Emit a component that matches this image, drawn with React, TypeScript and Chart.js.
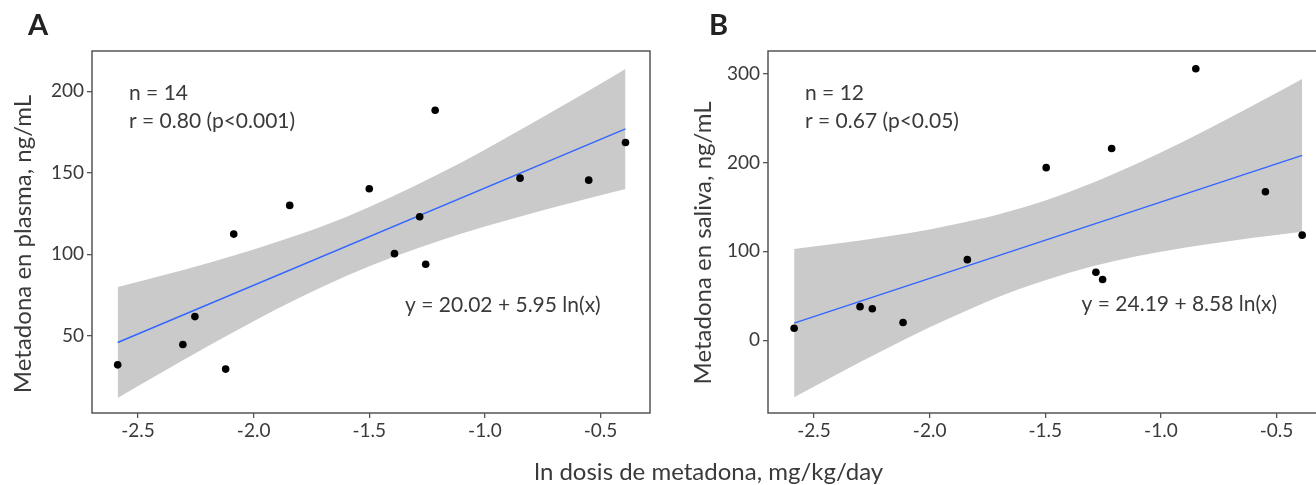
import React, { useEffect, useRef } from "react";
import { Chart, registerables } from "chart.js";

Chart.register(...registerables);

// ---------- data ----------
const xTickValues = [-2.5, -2.0, -1.5, -1.0, -0.5];
const plasmaTicks = [50, 100, 150, 200];
const salivaTicks = [0, 100, 200, 300];

// Panel A: plasma
const plasmaDose = [-2.588, -2.306, -2.254, -2.121, -2.086, -1.844, -1.5, -1.391, -1.282, -1.256, -1.215, -0.848, -0.551, -0.392];
const plasmaConc = [32.2, 44.7, 61.8, 29.6, 112.4, 130.0, 140.2, 100.4, 123.0, 93.9, 188.4, 146.7, 145.5, 168.6];
const plasmaFitX = [-2.588, -0.392];
const plasmaFitY = [45.9, 176.9];
const plasmaBandX = [-2.588, -2.4, -2.2, -2.0, -1.8, -1.6, -1.4, -1.2, -1.0, -0.8, -0.6, -0.392];
const plasmaBandUpper = [79.9, 86.8, 94.5, 103.0, 112.3, 122.9, 135.4, 149.2, 164.2, 180.1, 196.4, 213.7];
const plasmaBandLower = [11.9, 27.4, 43.5, 59.0, 73.5, 86.7, 98.2, 108.2, 117.0, 125.1, 132.6, 140.1];

// Panel B: saliva
const salivaDose = [-2.586, -2.301, -2.248, -2.115, -1.837, -1.496, -1.281, -1.252, -1.213, -0.849, -0.548, -0.389];
const salivaConc = [13.4, 37.7, 35.4, 19.8, 90.6, 194.2, 76.4, 68.2, 215.8, 305.6, 167.0, 118.2];
const salivaFitX = [-2.586, -0.389];
const salivaFitY = [19.2, 208.0];
const salivaBandX = [-2.586, -2.4, -2.2, -2.0, -1.8, -1.6, -1.4, -1.2, -1.0, -0.8, -0.6, -0.389];
const salivaBandUpper = [102.7, 108.7, 116.1, 124.6, 135.4, 149.1, 166.5, 187.5, 211.3, 237.2, 264.3, 294.0];
const salivaBandLower = [-64.3, -38.3, -11.3, 14.4, 38.0, 58.7, 75.7, 89.1, 99.5, 108.0, 115.3, 122.0];

// ---------- style ----------
const FONT = "Lato, 'Open Sans', sans-serif";
const TEXT = "#3a3a3a";
const AXIS = "#555555";
const BAND = "rgb(202,202,202)";
const BLUE = "#3366FF";

type PanelSpec = {
  dose: number[];
  conc: number[];
  fitX: number[];
  fitY: number[];
  bandX: number[];
  bandUp: number[];
  bandLo: number[];
  yMin: number;
  yMax: number;
  yTicks: number[];
  padLeft: number;
  padRight: number;
  yAxisWidth: number;
  extra: (chart: any) => void;
};

function pts(xs: number[], ys: number[]) {
  return xs.map((x, i) => ({ x, y: ys[i] }));
}

function txt(ctx: CanvasRenderingContext2D, s: string, x: number, y: number, font: string, align: CanvasTextAlign = "left", baseline: CanvasTextBaseline = "middle", color = TEXT) {
  ctx.save();
  ctx.font = font;
  ctx.fillStyle = color;
  ctx.textAlign = align;
  ctx.textBaseline = baseline;
  ctx.fillText(s, x, y);
  ctx.restore();
}

function vtxt(ctx: CanvasRenderingContext2D, s: string, x: number, y: number, font: string) {
  ctx.save();
  ctx.translate(x, y);
  ctx.rotate(-Math.PI / 2);
  ctx.font = font;
  ctx.fillStyle = TEXT;
  ctx.textAlign = "center";
  ctx.textBaseline = "alphabetic";
  ctx.fillText(s, 0, 0);
  ctx.restore();
}

function buildConfig(p: PanelSpec): any {
  const overlay = {
    id: "overlay",
    afterDatasetsDraw(chart: any) {
      const { ctx, chartArea } = chart;
      ctx.save();
      ctx.strokeStyle = AXIS;
      ctx.lineWidth = 1.5;
      ctx.strokeRect(chartArea.left, chartArea.top, chartArea.right - chartArea.left, chartArea.bottom - chartArea.top);
      ctx.restore();
    },
    afterDraw(chart: any) {
      p.extra(chart);
    },
  };
  return {
    type: "scatter",
    data: {
      datasets: [
        {
          label: "points",
          data: pts(p.dose, p.conc),
          showLine: false,
          pointRadius: 3.8,
          pointBackgroundColor: "#000",
          pointBorderWidth: 0,
          pointBorderColor: "#000",
        },
        {
          label: "fit",
          data: pts(p.fitX, p.fitY),
          showLine: true,
          borderColor: BLUE,
          borderWidth: 1.5,
          pointRadius: 0,
          fill: false,
        },
        {
          label: "upper",
          data: pts(p.bandX, p.bandUp),
          showLine: true,
          borderColor: "rgba(0,0,0,0)",
          borderWidth: 0,
          pointRadius: 0,
          cubicInterpolationMode: "monotone",
          fill: "+1",
          backgroundColor: BAND,
        },
        {
          label: "lower",
          data: pts(p.bandX, p.bandLo),
          showLine: true,
          borderColor: "rgba(0,0,0,0)",
          borderWidth: 0,
          pointRadius: 0,
          cubicInterpolationMode: "monotone",
          fill: false,
        },
      ],
    },
    options: {
      responsive: false,
      animation: false,
      devicePixelRatio: 1,
      events: [],
      layout: { padding: { left: p.padLeft, right: p.padRight, top: 51, bottom: 0 } },
      plugins: { legend: { display: false }, tooltip: { enabled: false } },
      scales: {
        x: {
          type: "linear",
          min: -2.699,
          max: -0.286,
          afterBuildTicks: (ax: any) => {
            ax.ticks = xTickValues.map((v) => ({ value: v }));
          },
          afterFit: (s: any) => {
            s.height = 72;
          },
          ticks: {
            callback: (v: any) => Number(v).toFixed(1),
            color: TEXT,
            font: { family: FONT, size: 19 },
            padding: 1,
            maxRotation: 0,
            autoSkip: false,
          },
          grid: { display: true, drawOnChartArea: false, drawTicks: true, tickLength: 5, color: AXIS, lineWidth: 1.3 },
          border: { display: false },
        },
        y: {
          type: "linear",
          min: p.yMin,
          max: p.yMax,
          afterBuildTicks: (ax: any) => {
            ax.ticks = p.yTicks.map((v) => ({ value: v }));
          },
          afterFit: (s: any) => {
            s.width = p.yAxisWidth;
          },
          ticks: {
            color: TEXT,
            font: { family: FONT, size: 19 },
            padding: 3,
            autoSkip: false,
          },
          grid: { display: true, drawOnChartArea: false, drawTicks: true, tickLength: 5, color: AXIS, lineWidth: 1.3 },
          border: { display: false },
        },
      },
    },
    plugins: [overlay],
  };
}

const ANNOT = `21px ${FONT}`;
const TITLE = `24px ${FONT}`;
const LETTER = `bold 29px ${FONT}`;

export default function App() {
  const refA = useRef<HTMLCanvasElement>(null);
  const refB = useRef<HTMLCanvasElement>(null);

  useEffect(() => {
    const cfgA = buildConfig({
      dose: plasmaDose,
      conc: plasmaConc,
      fitX: plasmaFitX,
      fitY: plasmaFitY,
      bandX: plasmaBandX,
      bandUp: plasmaBandUpper,
      bandLo: plasmaBandLower,
      yMin: 2.67,
      yMax: 224.7,
      yTicks: plasmaTicks,
      padLeft: 0,
      padRight: 666,
      yAxisWidth: 92,
      extra: (chart: any) => {
        const { ctx, scales } = chart;
        const x = scales.x, y = scales.y;
        txt(ctx, "A", 28, 35, LETTER, "left", "alphabetic", "#222");
        vtxt(ctx, "Metadona en plasma, ng/mL", 31, 244, TITLE);
        txt(ctx, "ln dosis de metadona, mg/kg/day", 708.7, 479.5, TITLE, "center", "alphabetic");
        txt(ctx, "n = 14", x.getPixelForValue(-2.539), y.getPixelForValue(199), ANNOT);
        txt(ctx, "r = 0.80 (p<0.001)", x.getPixelForValue(-2.539), y.getPixelForValue(181.8), ANNOT);
        txt(ctx, "y = 20.02 + 5.95 ln(x)", x.getPixelForValue(-1.345), y.getPixelForValue(69.0), ANNOT);
      },
    });
    const cfgB = buildConfig({
      dose: salivaDose,
      conc: salivaConc,
      fitX: salivaFitX,
      fitY: salivaFitY,
      bandX: salivaBandX,
      bandUp: salivaBandUpper,
      bandLo: salivaBandLower,
      yMin: -82,
      yMax: 325.5,
      yTicks: salivaTicks,
      padLeft: 660,
      padRight: 14,
      yAxisWidth: 108,
      extra: (chart: any) => {
        const { ctx, scales } = chart;
        const x = scales.x, y = scales.y;
        txt(ctx, "B", 709, 35, LETTER, "left", "alphabetic", "#222");
        vtxt(ctx, "Metadona en saliva, ng/mL", 711, 243, TITLE);
        txt(ctx, "n = 12", x.getPixelForValue(-2.539), y.getPixelForValue(277.6), ANNOT);
        txt(ctx, "r = 0.67 (p<0.05)", x.getPixelForValue(-2.539), y.getPixelForValue(246.3), ANNOT);
        txt(ctx, "y = 24.19 + 8.58 ln(x)", x.getPixelForValue(-1.343), y.getPixelForValue(40.3), ANNOT);
      },
    });
    const a = new Chart(refA.current as HTMLCanvasElement, cfgA);
    const b = new Chart(refB.current as HTMLCanvasElement, cfgB);
    return () => {
      a.destroy();
      b.destroy();
    };
  }, []);

  return (
    <div style={{ position: "fixed", left: 0, top: 0, width: 1316, height: 485, overflow: "hidden", background: "#fff" }}>
      <canvas ref={refA} width={1316} height={485} style={{ position: "absolute", left: 0, top: 0, width: 1316, height: 485, display: "block" }} />
      <canvas ref={refB} width={1340} height={485} style={{ position: "absolute", left: 0, top: 0, width: 1340, height: 485, display: "block" }} />
    </div>
  );
}
